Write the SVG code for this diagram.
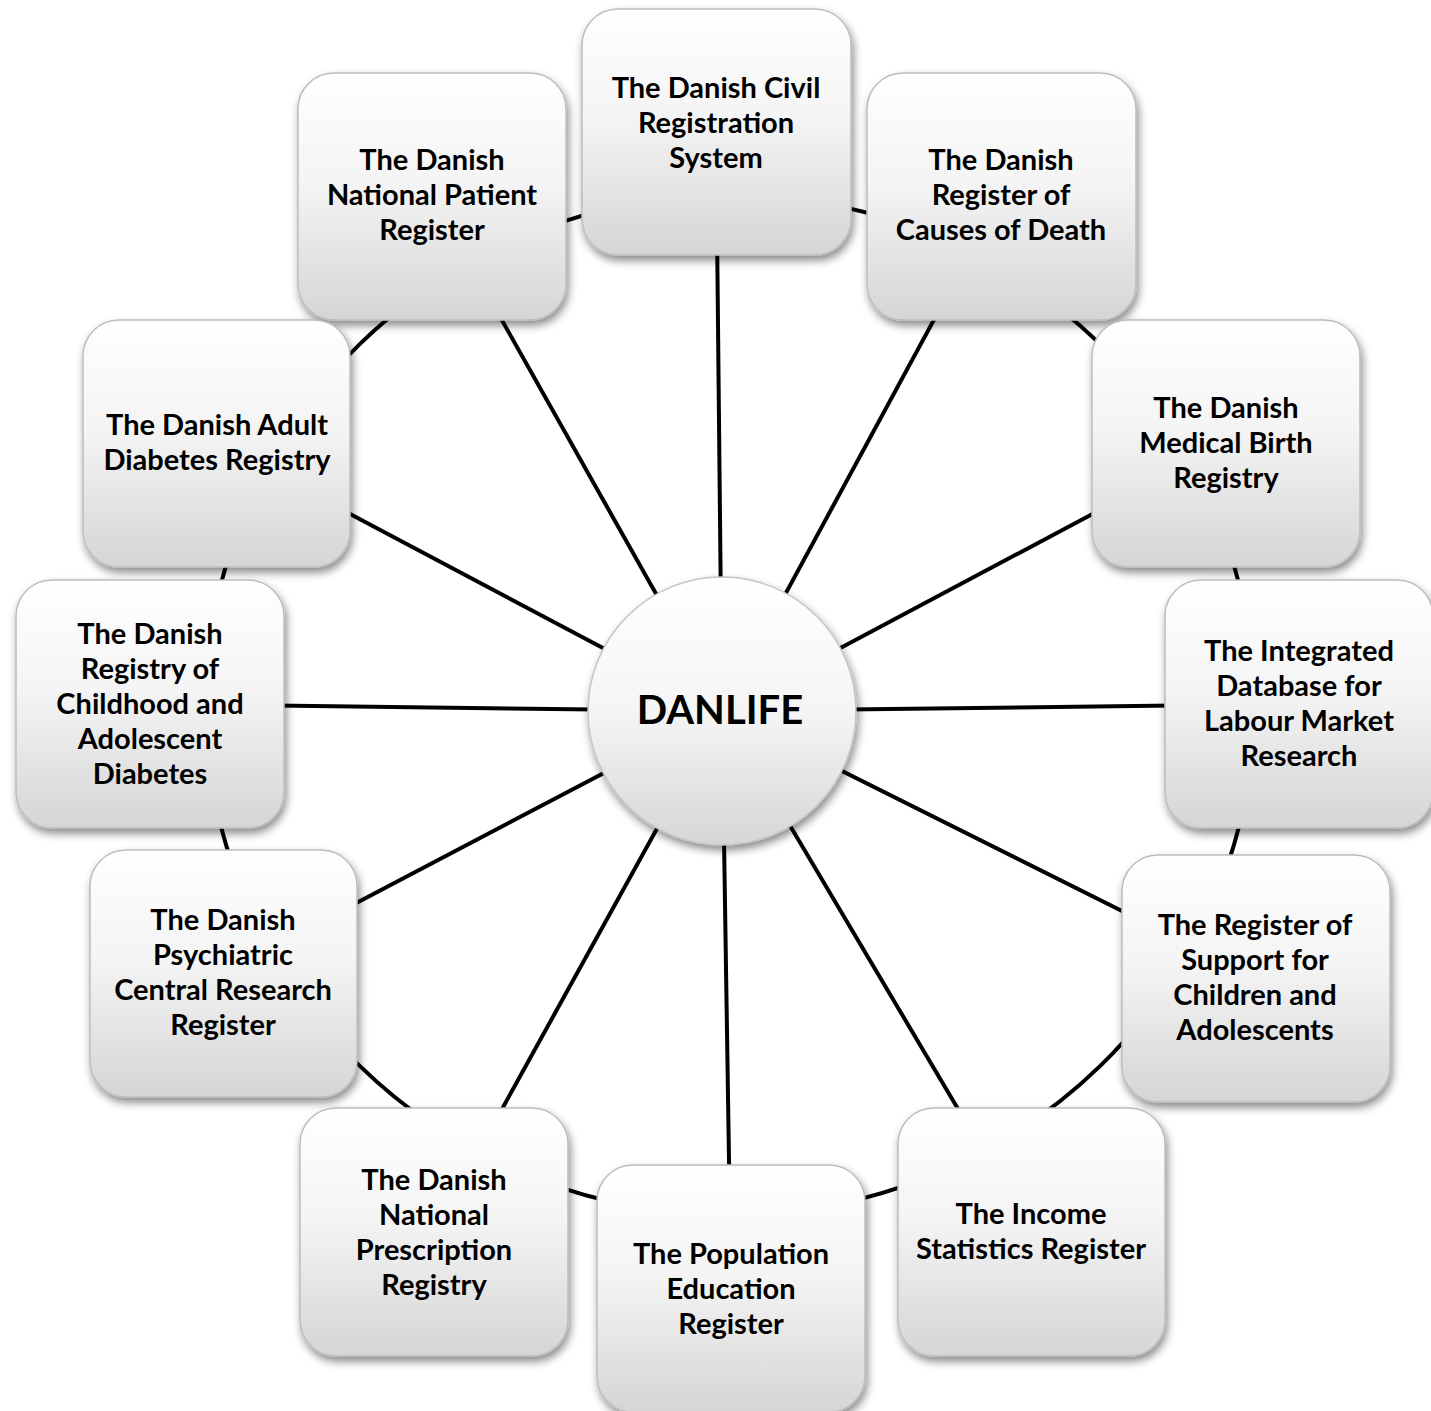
<svg xmlns="http://www.w3.org/2000/svg" width="1431" height="1411" viewBox="0 0 1431 1411">
<defs>
<linearGradient id="boxg" x1="0" y1="0" x2="0" y2="1">
<stop offset="0" stop-color="#ffffff"/>
<stop offset="0.45" stop-color="#f4f4f4"/>
<stop offset="1" stop-color="#d5d5d5"/>
</linearGradient>
<linearGradient id="circg" x1="0" y1="0" x2="0" y2="1">
<stop offset="0" stop-color="#ffffff"/>
<stop offset="0.5" stop-color="#f5f5f5"/>
<stop offset="1" stop-color="#d6d6d6"/>
</linearGradient>
<filter id="sh" x="-20%" y="-20%" width="140%" height="140%">
<feDropShadow dx="2" dy="5" stdDeviation="4" flood-color="#000" flood-opacity="0.45"/>
</filter>
</defs>
<style>
.box{fill:url(#boxg);stroke:#bdbdbd;stroke-width:1.5;filter:url(#sh)}
.lbl{font-family:Lato,"Liberation Sans",sans-serif;font-weight:bold;font-size:29px;fill:#000;text-anchor:middle}
.hub{font-family:Lato,"Liberation Sans",sans-serif;font-weight:bold;font-size:40px;fill:#000;text-anchor:middle}
.con{stroke:#000;stroke-width:4;fill:none}
</style>
<rect width="1431" height="1411" fill="#ffffff"/>
<g id="connectors">
<ellipse class="con" cx="730" cy="705" rx="524" ry="510"/>
<line class="con" x1="722" y1="711" x2="716" y2="131"/>
<line class="con" x1="722" y1="711" x2="432" y2="196"/>
<line class="con" x1="722" y1="711" x2="1001" y2="196"/>
<line class="con" x1="722" y1="711" x2="216" y2="443"/>
<line class="con" x1="722" y1="711" x2="1226" y2="443"/>
<line class="con" x1="722" y1="711" x2="150" y2="704"/>
<line class="con" x1="722" y1="711" x2="1298" y2="704"/>
<line class="con" x1="722" y1="711" x2="223" y2="973"/>
<line class="con" x1="722" y1="711" x2="1256" y2="978"/>
<line class="con" x1="722" y1="711" x2="434" y2="1232"/>
<line class="con" x1="722" y1="711" x2="731" y2="1288"/>
<line class="con" x1="722" y1="711" x2="1031" y2="1232"/>
</g>
<g id="civil">
<rect class="box" x="582" y="9" width="269" height="246" rx="36"/>
<text class="lbl"><tspan x="716" y="98">The Danish Civil</tspan><tspan x="716" y="133">Registration</tspan><tspan x="716" y="168">System</tspan></text>
</g>
<g id="patient">
<rect class="box" x="298" y="73" width="268" height="247" rx="36"/>
<text class="lbl"><tspan x="432" y="170">The Danish</tspan><tspan x="432" y="205">National Patient</tspan><tspan x="432" y="240">Register</tspan></text>
</g>
<g id="death">
<rect class="box" x="867" y="73" width="269" height="247" rx="36"/>
<text class="lbl"><tspan x="1001" y="170">The Danish</tspan><tspan x="1001" y="205">Register of</tspan><tspan x="1001" y="240">Causes of Death</tspan></text>
</g>
<g id="adultdiabetes">
<rect class="box" x="83" y="320" width="267" height="247" rx="36"/>
<text class="lbl"><tspan x="217" y="435">The Danish Adult</tspan><tspan x="217" y="470">Diabetes Registry</tspan></text>
</g>
<g id="birth">
<rect class="box" x="1092" y="320" width="268" height="247" rx="36"/>
<text class="lbl"><tspan x="1226" y="418">The Danish</tspan><tspan x="1226" y="453">Medical Birth</tspan><tspan x="1226" y="488">Registry</tspan></text>
</g>
<g id="childhood">
<rect class="box" x="16" y="580" width="268" height="248" rx="36"/>
<text class="lbl"><tspan x="150" y="644">The Danish</tspan><tspan x="150" y="679">Registry of</tspan><tspan x="150" y="714">Childhood and</tspan><tspan x="150" y="749">Adolescent</tspan><tspan x="150" y="784">Diabetes</tspan></text>
</g>
<g id="labour">
<rect class="box" x="1165" y="580" width="268" height="248" rx="36"/>
<text class="lbl"><tspan x="1299" y="661">The Integrated</tspan><tspan x="1299" y="696">Database for</tspan><tspan x="1299" y="731">Labour Market</tspan><tspan x="1299" y="766">Research</tspan></text>
</g>
<g id="psychiatric">
<rect class="box" x="90" y="850" width="267" height="247" rx="36"/>
<text class="lbl"><tspan x="223" y="930">The Danish</tspan><tspan x="223" y="965">Psychiatric</tspan><tspan x="223" y="1000">Central Research</tspan><tspan x="223" y="1035">Register</tspan></text>
</g>
<g id="support">
<rect class="box" x="1122" y="855" width="268" height="247" rx="36"/>
<text class="lbl"><tspan x="1255" y="935">The Register of</tspan><tspan x="1255" y="970">Support for</tspan><tspan x="1255" y="1005">Children and</tspan><tspan x="1255" y="1040">Adolescents</tspan></text>
</g>
<g id="prescription">
<rect class="box" x="300" y="1108" width="268" height="248" rx="36"/>
<text class="lbl"><tspan x="434" y="1190">The Danish</tspan><tspan x="434" y="1225">National</tspan><tspan x="434" y="1260">Prescription</tspan><tspan x="434" y="1295">Registry</tspan></text>
</g>
<g id="education">
<rect class="box" x="597" y="1165" width="268" height="247" rx="36"/>
<text class="lbl"><tspan x="731" y="1264">The Population</tspan><tspan x="731" y="1299">Education</tspan><tspan x="731" y="1334">Register</tspan></text>
</g>
<g id="income">
<rect class="box" x="898" y="1108" width="267" height="248" rx="36"/>
<text class="lbl"><tspan x="1031" y="1224">The Income</tspan><tspan x="1031" y="1259">Statistics Register</tspan></text>
</g>
<g id="danlife">
<circle cx="722" cy="711" r="134" fill="url(#circg)" stroke="#c4c4c4" stroke-width="1.5" filter="url(#sh)"/>
<text class="hub" x="720" y="724">DANLIFE</text>
</g>
</svg>
